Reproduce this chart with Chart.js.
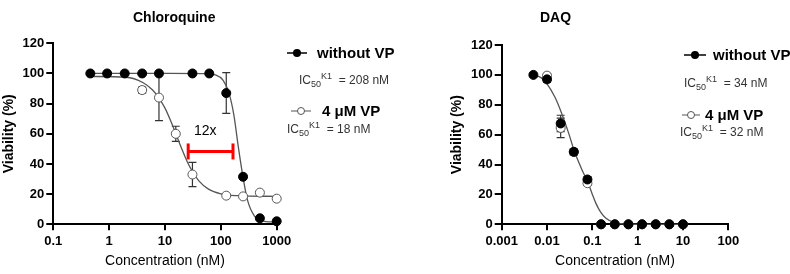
<!DOCTYPE html>
<html>
<head>
<meta charset="utf-8">
<script src="https://cdn.jsdelivr.net/npm/chart.js@4"></script>
<style>
body { margin:0; width:790px; height:274px; background:#fff; position:relative; overflow:hidden;
       font-family: Arial, "Liberation Sans", sans-serif; }
canvas { position:absolute; top:0; }
.txt { position:absolute; white-space:nowrap; height:20px; line-height:20px; color:#000; }
.ttl { font-size:14px; font-weight:bold; }
.lg { font-size:15px; font-weight:bold; }
.ic { font-size:12px; color:#333; }
.ic sub, .ic sup { font-size:9px; line-height:0; }
.sym { position:absolute; }
</style>
</head>
<body>
<canvas id="cqChart" width="300" height="274" style="left:0"></canvas>
<canvas id="daqChart" width="310" height="274" style="left:440px"></canvas>

<div class="txt ttl" style="left:133px;top:7px">Chloroquine</div>
<div class="txt ttl" style="left:540px;top:7px">DAQ</div>
<div class="txt" style="left:194px;top:120px;font-size:14px">12x</div>

<!-- legends -->
<svg class="sym" style="left:287px;top:48px" width="20" height="10"><line x1="0" y1="5" x2="20" y2="5" stroke="#000" stroke-width="1.5"/><circle cx="10" cy="5" r="4" fill="#000"/></svg>
<div class="txt lg" style="left:317px;top:43px">without VP</div>
<div class="txt ic" style="left:299px;top:70px">IC<sub>50</sub><sup>K1</sup>&nbsp; = 208 nM</div>
<svg class="sym" style="left:291px;top:106px" width="20" height="10"><line x1="0" y1="5" x2="20" y2="5" stroke="#555" stroke-width="1"/><circle cx="10" cy="5" r="3.5" fill="#fff" stroke="#555" stroke-width="1"/></svg>
<div class="txt lg" style="left:322px;top:101px">4 μM VP</div>
<div class="txt ic" style="left:287px;top:119px">IC<sub>50</sub><sup>K1</sup>&nbsp; = 18 nM</div>

<svg class="sym" style="left:684px;top:50px" width="22" height="10"><line x1="0" y1="5" x2="22" y2="5" stroke="#000" stroke-width="1.5"/><circle cx="11" cy="5" r="4" fill="#000"/></svg>
<div class="txt lg" style="left:713px;top:45px">without VP</div>
<div class="txt ic" style="left:684px;top:73px">IC<sub>50</sub><sup>K1</sup>&nbsp; = 34 nM</div>
<svg class="sym" style="left:682px;top:110px" width="18" height="10"><line x1="0" y1="5" x2="18" y2="5" stroke="#555" stroke-width="1"/><circle cx="9" cy="5" r="3.5" fill="#fff" stroke="#555" stroke-width="1"/></svg>
<div class="txt lg" style="left:705px;top:105px">4 μM VP</div>
<div class="txt ic" style="left:680px;top:122px">IC<sub>50</sub><sup>K1</sup>&nbsp; = 32 nM</div>

<script>
// Chloroquine data (nM, % viability)
const cqConc = [0.46, 0.92, 1.9, 3.9, 7.8, 15.6, 31, 62, 125, 250, 500, 1000];
const cqWithout = [100, 100, 100, 100, 100, null, 100, 100, 87, 31.5, 4, 2];
const cqWithoutErr = [0, 0, 0, 0, 0, null, 0, 0, 13.5, 0, 0, 0];
const cqWith = [null, null, null, 89, 84, 60, 33, null, 19, 18.5, 21, 17];
const cqWithErr = [null, null, null, 2, 15.3, 5, 8, null, 0, 0, 0, 0];
// fitted curves
const cqFitXWithout = [0.46, 10, 50, 80, 110, 140, 170, 208, 250, 300, 400, 600, 1000];
const cqFitWithout = [100, 100, 99.9, 99, 95.5, 87, 73, 50, 31, 16, 5.5, 2, 1.5];
const cqFitXWith = [0.46, 2, 4, 6, 8, 10, 13, 16, 20, 25, 31, 40, 60, 100, 200, 1000];
const cqFitWith = [98, 97.5, 94, 89, 83, 77, 67.5, 59, 50, 41.5, 35, 29, 23.3, 20.2, 19, 18.5];
const cqFoldX = [26, 165];
const cqFoldY = [48.3, 48.3];

// DAQ data
const daqConc = [0.005, 0.01, 0.02, 0.039, 0.078, 0.156, 0.3125, 0.625, 1.25, 2.5, 5, 10];
const daqWithout = [100, 97, 67.5, 48.5, 30, 0, 0, 0, 0, 0, 0, 0];
const daqWithoutErr = [0, 2, 5.5, 2, 2, 0, 0, 0, 0, 0, 0, 0];
const daqWith = [null, 99.5, 64.5, 48.5, 27.5, 0, 0, 0, 0, 0, 0, 0];
const daqWithErr = [null, 1.5, 6.5, 2, 1.5, 0, 0, 0, 0, 0, 0, 0];
const daqFitX = [0.005, 0.0075, 0.01, 0.015, 0.02, 0.03, 0.04, 0.06, 0.08, 0.1, 0.12, 0.15, 0.2, 0.3, 0.5, 1, 10];
const daqFit = [100, 98, 94, 85, 76, 61, 49, 36, 28, 20, 14, 8.5, 4, 1.2, 0.2, 0, 0];

const yTicks = [0, 20, 40, 60, 80, 100, 120];

Chart.defaults.font.family = 'Arial, "Liberation Sans", sans-serif';
Chart.defaults.color = '#000';

function pts(xs, ys, es) {
    const out = [];
    for (let i = 0; i < xs.length; i++) {
        if (ys[i] === null) continue;
        out.push({x: xs[i], y: ys[i], e: es ? es[i] : 0});
    }
    return out;
}

// vertical SD bars, drawn under the markers
const errorBars = {
    id: 'errorBars',
    beforeDatasetsDraw(chart) {
        const ctx = chart.ctx, xs = chart.scales.x, ys = chart.scales.y;
        ctx.save();
        ctx.strokeStyle = '#333';
        ctx.lineWidth = 1.2;
        chart.data.datasets.forEach(ds => {
            if (!ds.errors) return;
            ds.data.forEach(p => {
                if (!p.e) return;
                const px = xs.getPixelForValue(p.x);
                const top = ys.getPixelForValue(p.y + p.e);
                const bot = ys.getPixelForValue(p.y - p.e);
                ctx.beginPath();
                ctx.moveTo(px, top); ctx.lineTo(px, bot);
                ctx.moveTo(px - 4, top); ctx.lineTo(px + 4, top);
                ctx.moveTo(px - 4, bot); ctx.lineTo(px + 4, bot);
                ctx.stroke();
            });
        });
        ctx.restore();
    }
};

function filledSet(data) {
    return {data: data, errors: true, showLine: false, pointRadius: 4.5, pointBorderWidth: 1,
            pointBackgroundColor: '#000', pointBorderColor: '#000'};
}
function openSet(data) {
    return {data: data, errors: true, showLine: false, pointRadius: 4.5, pointBorderWidth: 1,
            pointBackgroundColor: '#fff', pointBorderColor: '#555'};
}
function curveSet(data) {
    return {data: data, showLine: true, pointRadius: 0, borderColor: '#555', borderWidth: 1.3,
            cubicInterpolationMode: 'monotone'};
}

function makeChart(id, o) {
    new Chart(document.getElementById(id), {
        type: 'scatter',
        data: {datasets: o.datasets},
        options: {
            responsive: false,
            animation: false,
            devicePixelRatio: 1,
            clip: false,
            layout: {padding: {left: 0, right: o.padRight, top: o.padTop, bottom: 4}},
            plugins: {legend: {display: false}, tooltip: {enabled: false}},
            scales: {
                x: {
                    type: 'logarithmic', min: o.xMin, max: o.xMax,
                    afterBuildTicks: s => { s.ticks = o.xTicks.map(v => ({value: v})); },
                    afterFit: s => { s.height = 274 - 4 - 224.3 - o.padTop + o.padTop; s.height = 45.7; },
                    ticks: {font: {size: 13, weight: 'bold'}, padding: 3, maxRotation: 0, autoSkip: false,
                            callback: v => String(v)},
                    grid: {drawOnChartArea: false, drawTicks: true, tickLength: 6, color: '#000', lineWidth: 2},
                    border: {color: '#000', width: 2},
                    title: {display: true, text: 'Concentration (nM)', font: {size: 14}, padding: {top: 0, bottom: 0}}
                },
                y: {
                    min: 0, max: 120,
                    afterBuildTicks: s => { s.ticks = yTicks.map(v => ({value: v})); },
                    afterFit: s => { s.width = o.yWidth; },
                    ticks: {font: {size: 13, weight: 'bold'}, padding: 2},
                    grid: {drawOnChartArea: false, drawTicks: true, tickLength: 7, color: '#000', lineWidth: 2},
                    border: {color: '#000', width: 2},
                    title: {display: true, text: 'Viability (%)', font: {size: 14, weight: 'bold'},
                            padding: {top: o.yTitlePad, bottom: 0}}
                }
            }
        },
        plugins: [errorBars]
    });
}

makeChart('cqChart', {
    xMin: 0.1, xMax: 1000, xTicks: [0.1, 1, 10, 100, 1000],
    yWidth: 53.3, padTop: 43.3, padRight: 300 - 276.7, yTitlePad: 1,
    datasets: [
        {data: pts(cqFoldX, cqFoldY), showLine: true, borderColor: '#f00', borderWidth: 3,
         pointStyle: 'line', rotation: 90, pointRadius: 8, pointBorderColor: '#f00', pointBorderWidth: 3},
        filledSet(pts(cqConc, cqWithout, cqWithoutErr)),
        openSet(pts(cqConc, cqWith, cqWithErr)),
        curveSet(pts(cqFitXWithout, cqFitWithout)),
        curveSet(pts(cqFitXWith, cqFitWith))
    ]
});

makeChart('daqChart', {
    xMin: 0.001, xMax: 100, xTicks: [0.001, 0.01, 0.1, 1, 10, 100],
    yWidth: 61.7, padTop: 45, padRight: 310 - 288.3, yTitlePad: 8.3,
    datasets: [
        filledSet(pts(daqConc, daqWithout, daqWithoutErr)),
        openSet(pts(daqConc, daqWith, daqWithErr)),
        curveSet(pts(daqFitX, daqFit))
    ]
});
</script>
</body>
</html>
